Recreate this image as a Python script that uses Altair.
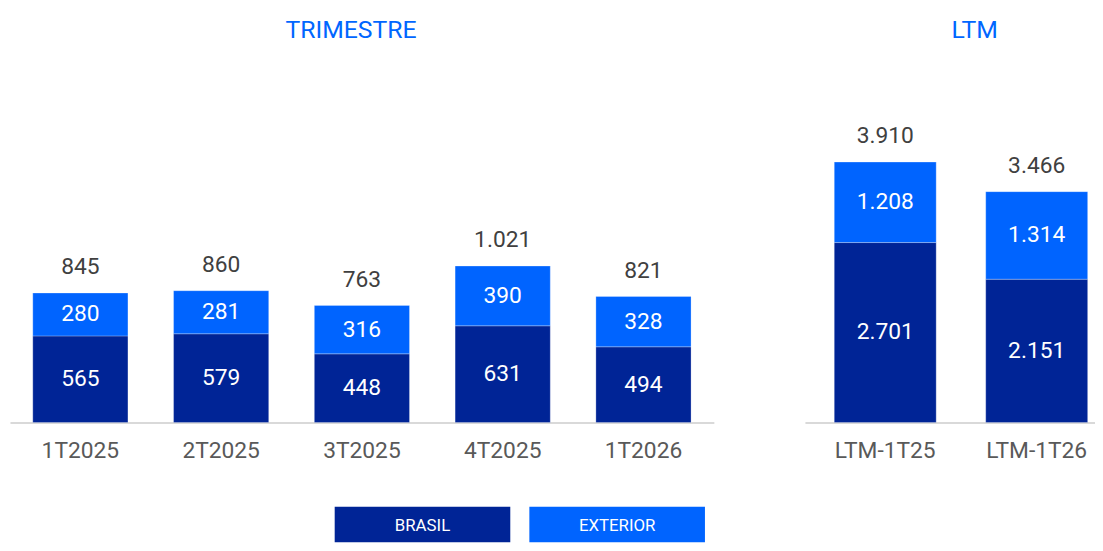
import altair as alt
import pandas as pd

# ---- data ----
quarters = ["1T2025", "2T2025", "3T2025", "4T2025", "1T2026"]
q_brasil = [565, 579, 448, 631, 494]
q_exterior = [280, 281, 316, 390, 328]
q_total = [845, 860, 763, 1021, 821]

ltm = ["LTM-1T25", "LTM-1T26"]
ltm_brasil = [2701, 2151]
ltm_exterior = [1208, 1314]
ltm_total = [3910, 3466]

series = ["BRASIL", "EXTERIOR"]
colors = ["#002496", "#0064FF"]

FONT = "Roboto"
FS = 23


def make_df(cats, br, ex):
    n = len(cats)
    return pd.DataFrame({
        "cat": list(cats) * 2,
        "serie": [series[0]] * n + [series[1]] * n,
        "ord": [0] * n + [1] * n,
        "value": list(br) + list(ex),
    })


def panel(cats, br, ex, tot, title, width, ymax, xscale, title_dx):
    df = make_df(cats, br, ex)
    tdf = pd.DataFrame({"cat": cats, "total": tot})
    ysc = alt.Scale(domain=[0, ymax], nice=False, zero=True)
    x = alt.X("cat:N", sort=cats, scale=xscale, title=None,
              axis=alt.Axis(labelAngle=0, labelFontSize=FS, labelColor="#595959",
                            labelFont=FONT, domainColor="#d9d9d9", domainWidth=2,
                            ticks=False, labelPadding=17, grid=False))
    base = alt.Chart(df)
    bars = base.mark_bar(stroke="#ffffff", strokeWidth=0.6, strokeOpacity=0.45).encode(
        x=x,
        y=alt.Y("value:Q", stack="zero", scale=ysc, axis=None),
        color=alt.Color("serie:N", scale=alt.Scale(domain=series, range=colors), legend=None),
        order=alt.Order("ord:Q", sort="ascending"),
    )
    inner = base.transform_stack(
        stack="value", as_=["y0", "y1"], groupby=["cat"],
        sort=[alt.SortField("ord", order="ascending")],
    ).transform_calculate(mid="(datum.y0 + datum.y1) / 2").mark_text(
        color="white", fontSize=FS, font=FONT, baseline="middle"
    ).encode(
        x=x,
        y=alt.Y("mid:Q", scale=ysc, axis=None),
        text=alt.Text("value:Q", format=",.0f"),
    )
    totals = alt.Chart(tdf).mark_text(
        color="#404040", fontSize=FS, font=FONT, baseline="alphabetic", dy=-19
    ).encode(
        x=x,
        y=alt.Y("total:Q", scale=ysc, axis=None),
        text=alt.Text("total:Q", format=",.0f"),
    )
    return alt.layer(bars, inner, totals).properties(
        width=width, height=351,
        title=alt.TitleParams(title, fontSize=25, color="#0066FF", font=FONT,
                              fontWeight="normal", anchor="middle", dx=title_dx, offset=32),
    )


left = panel(quarters, q_brasil, q_exterior, q_total, "TRIMESTRE", 711, 2267,
             alt.Scale(paddingInner=0.324, paddingOuter=0.162, align=0.5), -11)
right = panel(ltm, ltm_brasil, ltm_exterior, ltm_total, "LTM", 293, 5215,
              alt.Scale(paddingInner=0.327, paddingOuter=0.121, align=0.8), 25)

leg_df = pd.DataFrame({"serie": series})
leg_x = alt.X("serie:N", sort=series,
              scale=alt.Scale(domain=series, range=[328, 702], paddingInner=0.098, paddingOuter=0),
              axis=None)
leg_rect = alt.Chart(leg_df).mark_rect().encode(
    x=leg_x, y=alt.value(0), y2=alt.value(36),
    color=alt.Color("serie:N", scale=alt.Scale(domain=series, range=colors), legend=None),
)
leg_text = alt.Chart(leg_df).mark_text(color="white", fontSize=17, font=FONT, baseline="middle").encode(
    x=leg_x, y=alt.value(20), text="serie:N",
)
legend = alt.layer(leg_rect, leg_text).properties(width=1093, height=36)

chart = alt.vconcat(
    alt.hconcat(left, right, spacing=92),
    legend,
    spacing=45,
).properties(
    padding={"left": 2, "top": 8, "right": 0, "bottom": 0}
).configure(
    font=FONT,
    locale={"number": {"decimal": ",", "thousands": ".", "grouping": [3], "currency": ["R$", ""]}},
).configure_view(strokeWidth=0, stroke="transparent")

chart.save("out.html", embed_options={"renderer": "svg", "actions": False})
